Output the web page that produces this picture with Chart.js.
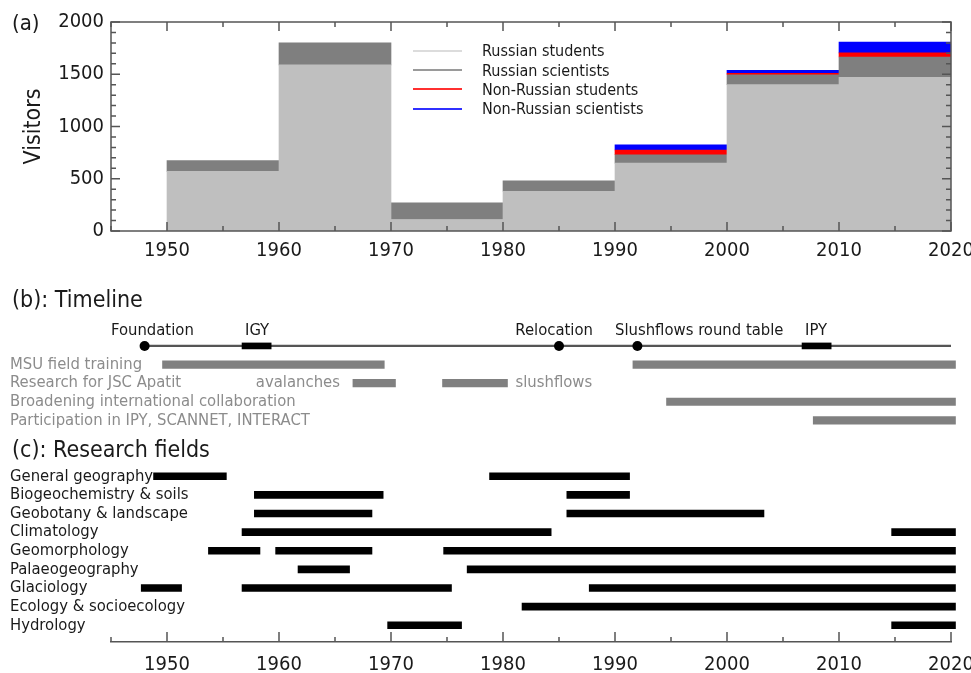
<!DOCTYPE html>
<html lang="en">
<head>
<meta charset="UTF-8">
<title>Visitors, timeline and research fields</title>
<style>
  body { margin: 0; background: #fff; font-family: 'DejaVu Sans Condensed', 'DejaVu Sans', sans-serif; color: #1a1a1a; }
  .page { position: relative; width: 971px; height: 673px; overflow: hidden; }
  canvas { position: absolute; left: 0; }
  #visits { top: 0; }
  #timeline { top: 275px; }
  .tag { position: absolute; left: 12px; line-height: 1; white-space: nowrap; }
  .legend { position: absolute; left: 413px; top: 41px; font-size: 16px; }
  .legend div { height: 19.4px; display: flex; align-items: center; }
  .legend .line { display: block; flex: none; width: 49px; height: 2px; margin-right: 20px; }
</style>
</head>
<body>
<div class="page">
  <canvas id="visits" width="971" height="275"></canvas>
  <canvas id="timeline" width="971" height="398"></canvas>
  <div class="tag" style="top:12px; font-size:22px;">(a)</div>
  <div class="tag" style="top:288px; font-size:23px;">(b): Timeline</div>
  <div class="tag" style="top:438px; font-size:23px;">(c): Research fields</div>
  <div class="legend" id="legend"></div>
</div>

<script src="https://cdn.jsdelivr.net/npm/chart.js"></script>
<script>
// (a) visitors per decade
const decadeStart = [1950, 1960, 1970, 1980, 1990, 2000, 2010];
const russianStudents = [570, 1590, 110, 380, 650, 1400, 1470];
const russianScientists = [105, 210, 160, 100, 80, 95, 195];
const nonRussianStudents = [0, 0, 0, 0, 45, 15, 40];
const nonRussianScientists = [0, 0, 0, 0, 50, 28, 102];
const seriesNames = ['Russian students', 'Russian scientists', 'Non-Russian students', 'Non-Russian scientists'];
const yearTicks = [1950, 1960, 1970, 1980, 1990, 2000, 2010, 2020];
const visitorTicks = [0, 500, 1000, 1500, 2000];

// (b) timeline
const eventNames = ['Foundation', 'Relocation', 'Slushflows round table'];
const eventYears = [1948, 1985, 1992];
const eventLabelAt = [1945, 1981.1, 1990];
const periodNames = ['IGY', 'IPY'];
const periodSpans = [[1956.7, 1959.3], [2006.7, 2009.3]];
const timelineSpan = [1948, 2020];
const activityNames = ['MSU field training', 'Research for JSC Apatit', 'Broadening international collaboration', 'Participation in IPY, SCANNET, INTERACT'];
const activitySpans = [
  [[1949.6, 1969.4], [1991.6, 2020.4]],
  [[1966.6, 1970.4], [1974.6, 1980.4]],
  [[1994.6, 2020.4]],
  [[2007.7, 2020.4]]
];
const apatitTopics = ['avalanches', 'slushflows'];

// (c) research fields
const fieldNames = ['General geography', 'Biogeochemistry & soils', 'Geobotany & landscape', 'Climatology', 'Geomorphology', 'Palaeogeography', 'Glaciology', 'Ecology & socioecology', 'Hydrology'];
const fieldSpans = [
  [[1948.8, 1955.3], [1978.8, 1991.3]],
  [[1957.8, 1969.3], [1985.7, 1991.3]],
  [[1957.8, 1968.3], [1985.7, 2003.3]],
  [[1956.7, 1984.3], [2014.7, 2020.4]],
  [[1953.7, 1958.3], [1959.7, 1968.3], [1974.7, 2020.4]],
  [[1961.7, 1966.3], [1976.8, 2020.4]],
  [[1947.7, 1951.3], [1956.7, 1975.4], [1987.7, 2020.4]],
  [[1981.7, 2020.4]],
  [[1969.7, 1976.3], [2014.7, 2020.4]]
];

const FONT = "'DejaVu Sans Condensed', 'DejaVu Sans', sans-serif";
const INK = '#1a1a1a';
const GREY_TEXT = '#8c8c8c';

// ---------- (a) ----------
const seriesValues = [russianStudents, russianScientists, nonRussianStudents, nonRussianScientists];
const barColors = ['#bfbfbf', '#7f7f7f', '#ff0000', '#0000ff'];
const legendColors = ['#dcdcdc', '#9a9a9a', '#ff3030', '#3030ff'];

document.getElementById('legend').innerHTML = seriesNames.map((n, k) =>
  `<div><span class="line" style="background-color:${legendColors[k]}"></span>${n}</div>`).join('');

// box with inward ticks on all four sides
const frameTicks = {
  id: 'frameTicks',
  afterDatasetsDraw(chart) {
    const {ctx, chartArea: a, scales: {x, y}} = chart;
    ctx.save();
    ctx.strokeStyle = '#555';
    ctx.lineWidth = 1.5;
    ctx.strokeRect(a.left, a.top, a.right - a.left, a.bottom - a.top);
    ctx.beginPath();
    for (let yr = 1945; yr <= 2020; yr += 5) {
      const px = x.getPixelForValue(yr);
      const len = yr % 10 === 0 ? 9 : 5;
      ctx.moveTo(px, a.bottom); ctx.lineTo(px, a.bottom - len);
      ctx.moveTo(px, a.top); ctx.lineTo(px, a.top + len);
    }
    for (let v = 0; v <= 2000; v += 100) {
      const py = y.getPixelForValue(v);
      const len = v % 500 === 0 ? 9 : 5;
      ctx.moveTo(a.left, py); ctx.lineTo(a.left + len, py);
      ctx.moveTo(a.right, py); ctx.lineTo(a.right - len, py);
    }
    ctx.stroke();
    ctx.restore();
  }
};

new Chart(document.getElementById('visits'), {
  type: 'bar',
  data: {
    datasets: seriesNames.map((name, k) => ({
      label: name,
      // empty layers are left out so they leave no hairline
      data: decadeStart.map((d, i) => ({x: d + 5, y: seriesValues[k][i] || null})),
      backgroundColor: barColors[k],
      borderWidth: 0,
      barPercentage: 1,
      categoryPercentage: 1
    }))
  },
  options: {
    responsive: false,
    animation: false,
    events: [],
    layout: {padding: {left: 0, right: 20, top: 22, bottom: 0}},
    plugins: {legend: {display: false}, tooltip: {enabled: false}},
    scales: {
      x: {
        type: 'linear', min: 1945, max: 2020, stacked: true, offset: false,
        grid: {display: false, drawTicks: false}, border: {display: false},
        afterBuildTicks: s => { s.ticks = yearTicks.map(v => ({value: v})); },
        afterFit: s => { s.height = 44; s.paddingLeft = 0; s.paddingRight = 0; },
        ticks: {font: {family: FONT, size: 20}, color: INK, padding: 8, maxRotation: 0, autoSkip: false, callback: v => String(v)}
      },
      y: {
        min: 0, max: 2000, stacked: true,
        grid: {display: false, drawTicks: false}, border: {display: false},
        afterBuildTicks: s => { s.ticks = visitorTicks.map(v => ({value: v})); },
        afterFit: s => { s.width = 111; s.paddingTop = 0; s.paddingBottom = 0; },
        title: {display: true, text: 'Visitors', font: {family: FONT, size: 23}, color: INK, padding: {top: 20, bottom: 0}},
        ticks: {font: {family: FONT, size: 20}, color: INK, padding: 7, callback: v => String(v)}
      }
    }
  },
  plugins: [frameTicks]
});

// ---------- (b) + (c) ----------
const rowLabels = ['', ...activityNames, '', '', ...fieldNames];
const firstField = rowLabels.indexOf(fieldNames[0]);

const spanPoints = (spans, offset) => spans.flatMap((row, i) => row.map(s => ({y: i + offset, x: s})));

const timelineText = {
  id: 'timelineText',
  afterDatasetsDraw(chart) {
    const {ctx, chartArea: a, scales: {x, y}} = chart;
    ctx.save();
    ctx.font = `16.5px ${FONT}`;
    ctx.textBaseline = 'middle';
    ctx.textAlign = 'left';

    // row names, allowed to run into the plot like in the original
    rowLabels.forEach((label, i) => {
      ctx.fillStyle = i >= firstField ? INK : GREY_TEXT;
      ctx.fillText(label, 10, y.getPixelForValue(i));
    });

    ctx.fillStyle = INK;
    const yTop = y.getPixelForValue(0) - 15;
    eventNames.forEach((n, i) => ctx.fillText(n, x.getPixelForValue(eventLabelAt[i]), yTop));
    periodNames.forEach((n, i) => ctx.fillText(n, x.getPixelForValue(periodSpans[i][0]) + 3, yTop));

    ctx.fillStyle = GREY_TEXT;
    const yApatit = y.getPixelForValue(2);
    ctx.textAlign = 'right';
    ctx.fillText(apatitTopics[0], x.getPixelForValue(activitySpans[1][0][0]) - 13, yApatit);
    ctx.textAlign = 'left';
    ctx.fillText(apatitTopics[1], x.getPixelForValue(activitySpans[1][1][1]) + 8, yApatit);

    // upward ticks on the year axis
    ctx.strokeStyle = '#555';
    ctx.lineWidth = 1.5;
    ctx.beginPath();
    for (let yr = 1945; yr <= 2020; yr += 5) {
      const px = x.getPixelForValue(yr);
      const len = yr % 10 === 0 ? 10 : 5;
      ctx.moveTo(px, a.bottom); ctx.lineTo(px, a.bottom - len);
    }
    ctx.stroke();
    ctx.restore();
  }
};

new Chart(document.getElementById('timeline'), {
  type: 'bar',
  data: {
    datasets: [
      {
        type: 'scatter',
        data: eventYears.map(v => ({x: v, y: 0})),
        backgroundColor: '#000', borderWidth: 0, pointRadius: 5
      },
      {
        data: periodSpans.map(s => ({y: 0, x: s})),
        backgroundColor: '#000', borderWidth: 0, barThickness: 6
      },
      {
        data: [{y: 0, x: timelineSpan}],
        backgroundColor: '#555', borderWidth: 0, barThickness: 1.5
      },
      {
        data: spanPoints(activitySpans, 1),
        backgroundColor: '#808080', borderWidth: 0, barThickness: 7.5, clip: false
      },
      {
        data: spanPoints(fieldSpans, firstField),
        backgroundColor: '#000', borderWidth: 0, barThickness: 7, clip: false
      }
    ]
  },
  options: {
    indexAxis: 'y',
    responsive: false,
    animation: false,
    events: [],
    layout: {padding: {left: 10, right: 20, top: 43, bottom: 0}},
    plugins: {legend: {display: false}, tooltip: {enabled: false}},
    scales: {
      x: {
        type: 'linear', min: 1945, max: 2020, stacked: false,
        grid: {display: false},
        border: {display: true, color: '#555', width: 1.5},
        afterBuildTicks: s => { s.ticks = yearTicks.map(v => ({value: v})); },
        afterFit: s => { s.height = 31; s.paddingLeft = 0; s.paddingRight = 0; },
        ticks: {font: {family: FONT, size: 20}, color: INK, padding: 3, maxRotation: 0, autoSkip: false, callback: v => String(v)}
      },
      y: {
        type: 'linear', reverse: true, min: -1.5, max: 15.9, stacked: true, offset: false,
        grid: {display: false}, border: {display: false},
        afterBuildTicks: s => { s.ticks = rowLabels.map((_, i) => ({value: i})); },
        afterFit: s => { s.width = 101; s.paddingTop = 0; s.paddingBottom = 0; },
        ticks: {display: false}
      }
    }
  },
  plugins: [timelineText]
});
</script>
</body>
</html>
